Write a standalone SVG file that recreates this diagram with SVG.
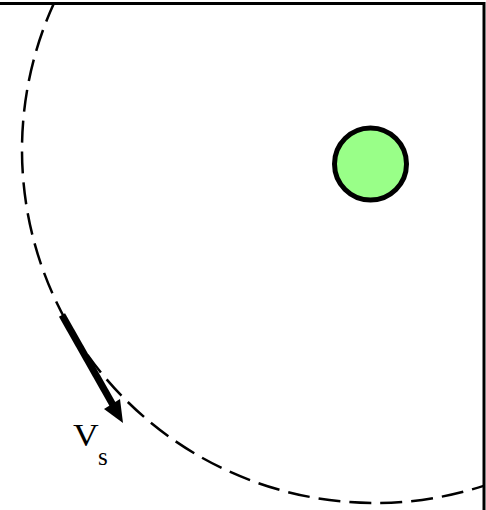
<svg xmlns="http://www.w3.org/2000/svg" width="486" height="510" viewBox="0 0 486 510">
  <style>
    .frame { fill: none; stroke: #000; stroke-width: 3; }
    .orbit { fill: none; stroke: #000; stroke-width: 2.5; stroke-dasharray: 22 9; }
    .ball { fill: #99ff88; stroke: #000; stroke-width: 5; }
    .vec { stroke: #000; stroke-width: 7; fill: none; }
    .lbl { font-family: "Liberation Serif", "Times New Roman", serif; fill: #000; }
  </style>
  <defs>
    <clipPath id="inside">
      <rect x="0" y="4" width="484" height="506"/>
    </clipPath>
  </defs>
  <rect class="frame" x="-10" y="3.5" width="494" height="520"/>
  <g id="orbit" clip-path="url(#inside)">
    <circle class="orbit" cx="375" cy="150" r="353"/>
  </g>
  <g id="ball">
    <circle class="ball" cx="370.5" cy="164" r="36"/>
  </g>
  <g id="connectors">
    <line class="vec" x1="62" y1="315" x2="113" y2="405"/>
    <polygon points="123,423 104,409 120,399" fill="#000"/>
  </g>
  <g id="label">
    <text class="lbl" x="73" y="446" font-size="31" transform="translate(73 446) scale(1.15 1) translate(-73 -446)">V</text>
    <text class="lbl" x="98" y="465" font-size="25">s</text>
  </g>
</svg>
